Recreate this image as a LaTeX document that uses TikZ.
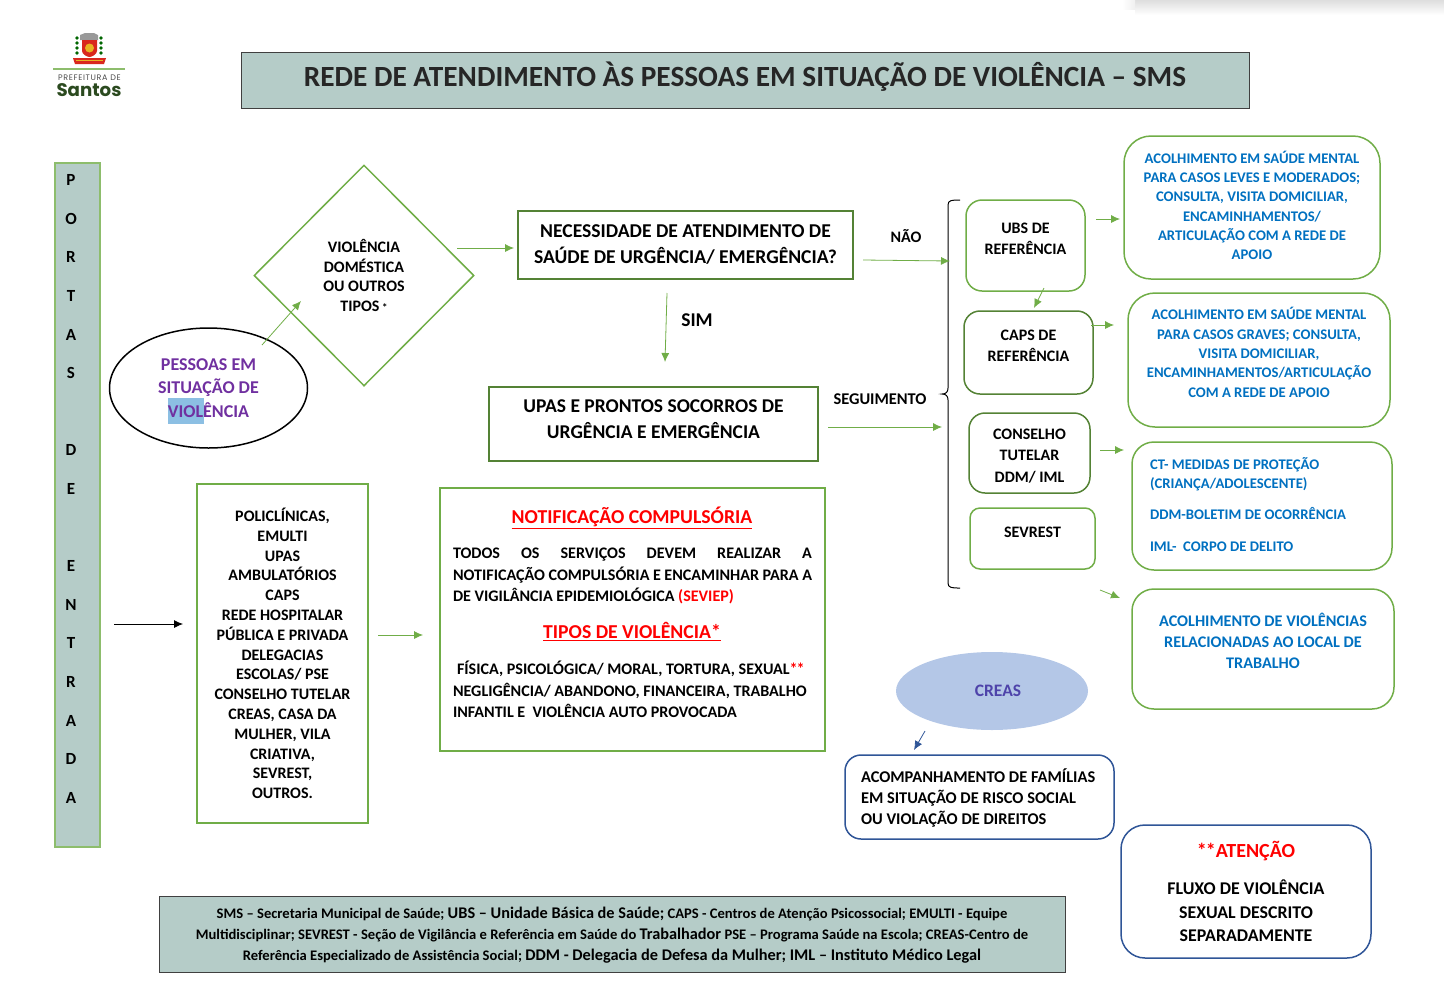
\documentclass[tikz,border=0pt]{standalone}
\usepackage{fontspec}
\setmainfont{Carlito}
\newfontfamily\logofont{Poppins}
\newfontfamily\logowide[LetterSpace=8]{Poppins}
\usetikzlibrary{arrows.meta,positioning,calc,shapes.geometric}
\definecolor{panelfill}{HTML}{B5CCC8}
\definecolor{lightgreen}{HTML}{70AD47}
\definecolor{darkgreen}{HTML}{548235}
\definecolor{textblue}{HTML}{0070C0}
\definecolor{textpurple}{HTML}{7030A0}
\definecolor{navyline}{HTML}{2F5597}
\definecolor{creasfill}{HTML}{B4C7E7}
\definecolor{logogreen}{HTML}{2B4A1F}
\definecolor{crestred}{HTML}{D9281E}
\definecolor{crestgold}{HTML}{E8B422}
\tikzstyle{panel}=[draw=black!75,fill=panelfill,line width=1pt,align=flush center,inner sep=0pt]
\tikzstyle{greenbox}=[draw=lightgreen,line width=1.5pt,align=flush center,inner sep=0pt,font=\bfseries\fontsize{16}{21.5}\selectfont]
\tikzstyle{roundbox}=[greenbox,rounded corners=16pt]
\tikzstyle{darkbox}=[roundbox,draw=darkgreen]
\tikzstyle{bluebox}=[greenbox,rounded corners=27pt,text=textblue,font=\bfseries\fontsize{14.7}{19.3}\selectfont]
\tikzstyle{seta}=[draw=lightgreen,line width=0.8pt,-{Latex[length=9pt,width=8pt]}]
\begin{document}
\begin{tikzpicture}[x=1pt,y=-1pt]
\useasboundingbox (0,0) rectangle (1444,994);

\shade[top color=black!13,bottom color=white] (1135,0) rectangle (1444,15);
\shade[left color=white,right color=black!6] (1122,0) rectangle (1135,9);

\fill[crestred] (73,58) -- (106,58) -- (104,64) -- (75,64) -- cycle;
\draw[crestgold,line width=1pt] (76,60.5) -- (103,60.5);
\fill[black!40] (80,40) -- (80,35) -- (85,33) -- (94,33) -- (98,35) -- (98,40) -- cycle;
\fill[crestred] (82,40) -- (97,40) -- (97,51) .. controls (97,54) and (92,57) .. (89.5,57) .. controls (87,57) and (82,54) .. (82,51) -- cycle;
\fill[crestgold] (89.5,48) circle (4.5pt);
\foreach \a in {38,43,48,53} {
  \fill[green!40!black] (77,\a) circle (1.8pt);
  \fill[green!40!black] (101,\a) circle (1.8pt);
}
\draw[lightgreen!80,line width=1.5pt] (53,69) -- (125,69);
\node[font=\logowide\fontsize{8}{9}\selectfont,text=black!70] (prefeitura) at (89.5,78) {PREFEITURA DE};
\node[font=\logofont\bfseries\fontsize{18.2}{20}\selectfont,text=logogreen] (santos) at (89,90) {Santos};

\node[panel,minimum width=1008pt,minimum height=56pt,font=\bfseries\fontsize{29.3}{34}\selectfont,text=black!85] (title) at (745,80) {REDE DE ATENDIMENTO ÀS PESSOAS EM SITUAÇÃO DE VIOLÊNCIA – SMS\\[-23pt]\mbox{}};

\node[panel,draw=lightgreen!80,line width=1.5pt,minimum width=45pt,minimum height=684pt] (portas) at (77.5,505) {};
\node[align=center,inner sep=0pt,font=\bfseries\fontsize{17}{38.6}\selectfont] (portastext) at (71,489) {P\\O\\R\\T\\A\\S\\~\\D\\E\\~\\E\\N\\T\\R\\A\\D\\A};

\fill[textblue!45!white] (168,398) rectangle (204,424);
\node[ellipse,draw=black,line width=1.5pt,minimum width=198pt,minimum height=120pt,inner sep=0pt,align=flush center,text=textpurple,font=\bfseries\fontsize{18}{23.5}\selectfont] (pessoas) at (208.5,388) {PESSOAS EM\\SITUAÇÃO DE\\VIOLÊNCIA};

\node[diamond,draw=lightgreen,line width=1.5pt,minimum width=220pt,minimum height=221pt,inner sep=0pt,align=flush center,font=\bfseries\fontsize{16}{19.8}\selectfont] (tipos) at (364,275.5) {VIOLÊNCIA\\DOMÉSTICA\\OU OUTROS\\TIPOS\,{\fontsize{11}{12}\selectfont *}};

\node[greenbox,draw=darkgreen,minimum width=335pt,minimum height=68pt,font=\bfseries\fontsize{19.6}{26}\selectfont] (necessidade) at (685.5,245) {NECESSIDADE DE ATENDIMENTO DE\\SAÚDE DE URGÊNCIA/ EMERGÊNCIA?\\[-24pt]\mbox{}};
\node[greenbox,draw=darkgreen,minimum width=329pt,minimum height=74pt,font=\bfseries\fontsize{19.5}{26}\selectfont] (upas) at (653.5,424) {UPAS E PRONTOS SOCORROS DE\\URGÊNCIA E EMERGÊNCIA\\[-16pt]\mbox{}};

\node[font=\bfseries\fontsize{16}{18}\selectfont] (nao) at (906,236.5) {NÃO};
\node[font=\bfseries\fontsize{19.5}{20}\selectfont] (sim) at (697,320) {SIM};
\node[font=\bfseries\fontsize{16.4}{18}\selectfont] (seguimento) at (880,399) {SEGUIMENTO};

\draw[black,line width=1pt] (960,200) .. controls (952,200) and (948,200) .. (948,205) -- (948,388) .. controls (948,392) and (946,394) .. (942,394) .. controls (946,394) and (948,396) .. (948,400) -- (948,583) .. controls (948,588) and (952,588) .. (960,588);

\node[roundbox,minimum width=119pt,minimum height=91pt] (ubs) at (1025.5,245.5) {UBS DE\\REFERÊNCIA\\[-8pt]\mbox{}};
\node[darkbox,minimum width=129pt,minimum height=83pt] (caps) at (1028.5,352.5) {CAPS DE\\REFERÊNCIA\\[-7.5pt]\mbox{}};
\node[darkbox,minimum width=121pt,minimum height=80pt] (conselho) at (1029.5,453) {\mbox{}\\[-5.5pt]CONSELHO\\TUTELAR\\DDM/ IML};
\node[roundbox,rounded corners=10pt,minimum width=125pt,minimum height=61pt] (sevrest) at (1032.5,538.5) {SEVREST\\[-8.5pt]\mbox{}};

\node[bluebox,minimum width=256pt,minimum height=143pt] (mental) at (1252,207.5) {ACOLHIMENTO EM SAÚDE MENTAL\\PARA CASOS LEVES E MODERADOS;\\CONSULTA, VISITA DOMICILIAR,\\ENCAMINHAMENTOS/\\ARTICULAÇÃO COM A REDE DE\\APOIO\\[-15pt]\mbox{}};
\node[bluebox,minimum width=262pt,minimum height=134pt] (graves) at (1259,360) {ACOLHIMENTO EM SAÚDE MENTAL\\PARA CASOS GRAVES; CONSULTA,\\VISITA DOMICILIAR,\\ENCAMINHAMENTOS/ARTICULAÇÃO\\COM A REDE DE APOIO\\[-4pt]\mbox{}};
\node[bluebox,rounded corners=22pt,minimum width=260pt,minimum height=128pt,text width=224pt,align=flush left] (medidas) at (1262,506) {CT- MEDIDAS DE PROTEÇÃO\\(CRIANÇA/ADOLESCENTE)\\[12pt]DDM-BOLETIM DE OCORRÊNCIA\\[12pt]IML-\ \ CORPO DE DELITO\\[-16pt]\mbox{}};
\node[bluebox,rounded corners=22pt,minimum width=262pt,minimum height=120pt,font=\bfseries\fontsize{16.2}{21}\selectfont] (local) at (1263,649) {ACOLHIMENTO DE VIOLÊNCIAS\\RELACIONADAS AO LOCAL DE\\TRABALHO\\[-4pt]\mbox{}};

\node[ellipse,fill=creasfill,minimum width=192pt,minimum height=78pt,inner sep=0pt,text=textpurple!70!textblue,font=\bfseries\fontsize{17.5}{18}\selectfont] (creas) at (992,691) {\hspace*{12pt}CREAS};
\node[roundbox,draw=navyline,minimum width=269pt,minimum height=84pt,text width=237pt,align=flush left,font=\bfseries\fontsize{16.4}{21}\selectfont] (familias) at (979.5,797) {\mbox{}\\[-5pt]ACOMPANHAMENTO DE FAMÍLIAS\\EM SITUAÇÃO DE RISCO SOCIAL\\OU VIOLAÇÃO DE DIREITOS};
\node[roundbox,rounded corners=24pt,draw=navyline,minimum width=250pt,minimum height=133pt,font=\bfseries\fontsize{17.9}{23.5}\selectfont] (atencao) at (1246,891.5) {\textcolor{red}{\fontsize{20}{23.5}\selectfont *\kern-1pt*ATENÇÃO}\\[14pt]FLUXO DE VIOLÊNCIA\\SEXUAL DESCRITO\\SEPARADAMENTE};

\node[greenbox,minimum width=171pt,minimum height=339pt,font=\bfseries\fontsize{16}{19.8}\selectfont] (servicos) at (282.5,653.5) {POLICLÍNICAS,\\EMULTI\\UPAS\\AMBULATÓRIOS\\CAPS\\REDE HOSPITALAR\\PÚBLICA E PRIVADA\\DELEGACIAS\\ESCOLAS/ PSE\\CONSELHO TUTELAR\\CREAS, CASA DA\\MULHER, VILA\\CRIATIVA,\\SEVREST,\\OUTROS.};

\node[greenbox,minimum width=385pt,minimum height=263pt] (notificacao) at (632.5,619.5) {};
\node[text=red,font=\bfseries\fontsize{19.7}{22}\selectfont] (notiftitle) at (632,518) {\underline{NOTIFICAÇÃO COMPULSÓRIA}};
\node[inner sep=0pt,text width=359pt,align=flush left,font=\bfseries\fontsize{16.1}{21.5}\selectfont] (notiftext) at (632.5,576) {TODOS\hfill OS\hfill SERVIÇOS\hfill DEVEM\hfill REALIZAR\hfill A\\NOTIFICAÇÃO COMPULSÓRIA E ENCAMINHAR PARA A\\DE VIGILÂNCIA EPIDEMIOLÓGICA \textcolor{red}{(SEVIEP)}};
\node[text=red,font=\bfseries\fontsize{19.7}{22}\selectfont] (tipostitle) at (632,631.5) {\underline{TIPOS DE VIOLÊNCIA*}};
\node[inner sep=0pt,text width=359pt,align=flush left,font=\bfseries\fontsize{16.1}{21.3}\selectfont] (tipostext) at (632.5,689.5) {\hspace*{4pt}FÍSICA, PSICOLÓGICA/ MORAL, TORTURA, SEXUAL\textcolor{red}{*\kern-1pt*}\\NEGLIGÊNCIA/ ABANDONO, FINANCEIRA, TRABALHO\\INFANTIL E\ \ VIOLÊNCIA AUTO PROVOCADA};

\node[panel,minimum width=906pt,minimum height=76pt,font=\bfseries\fontsize{14.6}{21}\selectfont] (legenda) at (612,934) {\mbox{}\\[-7pt]SMS – Secretaria Municipal de Saúde; {\fontsize{16.3}{21}\selectfont UBS – Unidade Básica de Saúde;} CAPS - Centros de Atenção Psicossocial; EMULTI - Equipe\\Multidisciplinar; SEVREST - Seção de Vigilância e Referência em Saúde do {\fontsize{16.3}{21}\selectfont Trabalhador} PSE – Programa Saúde na Escola; CREAS-Centro de\\Referência Especializado de Assistência Social; {\fontsize{16.3}{21}\selectfont DDM - Delegacia de Defesa da Mulher; IML – Instituto Médico Legal}};

\coordinate (a1) at (262,345);
\coordinate (b1) at (301,301);
\coordinate (a2) at (457,248);
\coordinate (b2) at (514,248);
\coordinate (a3) at (863,260);
\coordinate (b3) at (950,261);
\coordinate (a4) at (667,293);
\coordinate (b4) at (665,362);
\coordinate (a5) at (828,427);
\coordinate (b5) at (942,427);
\coordinate (a6) at (114,624);
\coordinate (b6) at (183,624);
\coordinate (a7) at (378,635);
\coordinate (b7) at (423,635);
\coordinate (a8) at (1096,219);
\coordinate (b8) at (1120,219);
\coordinate (a9) at (1044,288);
\coordinate (b9) at (1034,308);
\coordinate (a10) at (1091,325);
\coordinate (b10) at (1114,325);
\coordinate (a11) at (1100,450);
\coordinate (b11) at (1124,450);
\coordinate (a12) at (1100,590);
\coordinate (b12) at (1120,598);
\coordinate (a13) at (925,731);
\coordinate (b13) at (914,750);
\foreach \i in {1,2,3,4,5,7,8,9,10,11,12} {
  \draw[seta] (a\i) -- (b\i);
}
\draw[seta,draw=black] (a6) -- (b6);
\draw[seta,draw=navyline] (a13) -- (b13);
\end{tikzpicture}
\end{document}
